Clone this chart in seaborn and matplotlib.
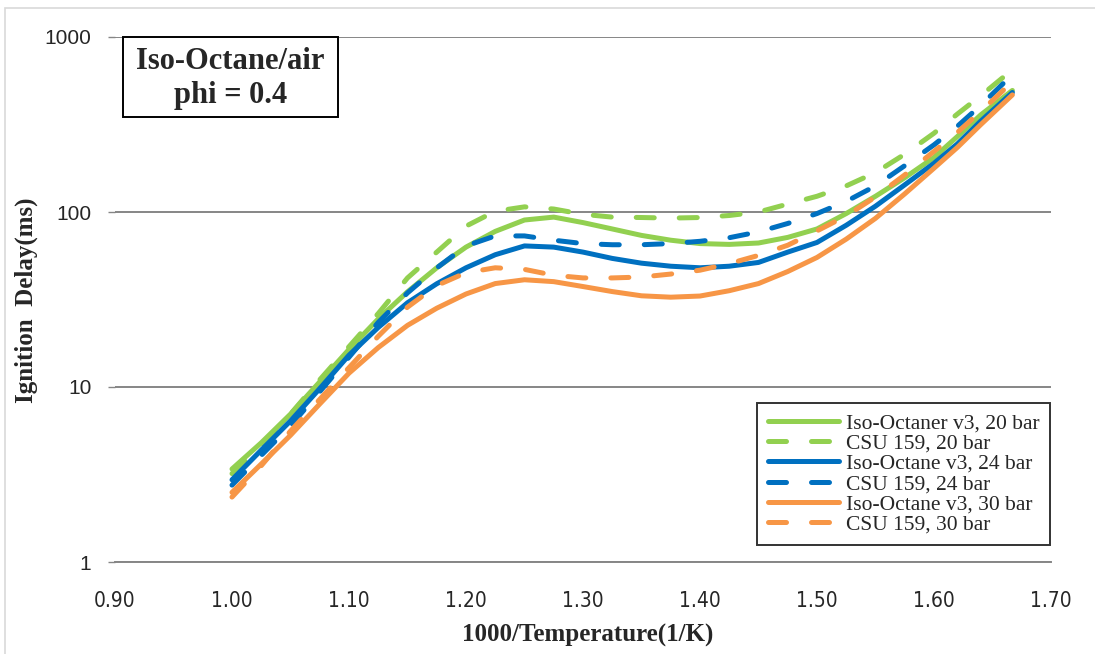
import matplotlib
matplotlib.use("Agg")
import matplotlib.pyplot as plt
import matplotlib.patches as mpatches
from matplotlib.ticker import FixedLocator, FixedFormatter, NullLocator
import seaborn as sns
import pandas as pd

# ---- data ----
inv_temp = [1.00, 1.025, 1.05, 1.075, 1.10, 1.125, 1.15, 1.175, 1.20, 1.225,
            1.25, 1.275, 1.30, 1.325, 1.35, 1.375, 1.40, 1.425, 1.45, 1.475,
            1.50, 1.525, 1.55, 1.575, 1.60, 1.62, 1.64, 1.667]

iso_v3_20 = [3.4, 4.8, 7.0, 10.7, 16.4, 24.5, 35, 48, 63, 77.5,
             90, 93.5, 87, 80, 73.5, 69, 66, 65.3, 66.5, 71.6,
             80, 98, 123, 157, 205, 270, 359, 495]
csu_20 = [3.2, 4.6, 7.0, 11, 17, 26.3, 42, 59, 83, 101,
          107, 104, 97, 93.5, 93, 92.3, 93, 95.5, 100, 111,
          123, 141, 168, 214, 282, 363, 462, 650]
iso_v3_24 = [2.95, 4.36, 6.4, 9.8, 15.2, 21.9, 30.3, 38.9, 48, 57,
             64, 63, 59, 54.3, 51, 49, 48, 49, 51.5, 59,
             67, 84, 108, 143, 190, 245, 331, 482]
csu_24 = [2.75, 4.07, 6.0, 9.4, 14.8, 23.4, 34.5, 47.9, 64, 73,
          73, 69, 66, 65, 65, 66, 68, 71.3, 77, 86,
          98, 115, 141, 184, 242, 309, 407, 610]
iso_v3_30 = [2.5, 3.63, 5.3, 8.0, 12, 16.8, 22.5, 28.2, 34, 39,
             41, 40, 37.5, 35.1, 33.2, 32.6, 33.1, 35.5, 39, 45.7,
             55, 70, 92, 127, 178, 234, 316, 467]
csu_30 = [2.35, 3.55, 5.6, 8.5, 12.9, 19.5, 28.6, 38, 45, 48,
          47, 43.5, 42, 42, 42.5, 44.2, 46.5, 50.7, 56.5, 64.6,
          78, 95, 122, 163, 222, 285, 376, 555]

series_labels = ["Iso-Octaner v3, 20 bar", "CSU 159, 20 bar",
                 "Iso-Octane v3, 24 bar", "CSU 159, 24 bar",
                 "Iso-Octane v3, 30 bar", "CSU 159, 30 bar"]
series_values = [iso_v3_20, csu_20, iso_v3_24, csu_24, iso_v3_30, csu_30]
series_colors = ["#92D050", "#92D050", "#0070C0", "#0070C0", "#F79646", "#F79646"]
series_dashed = [False, True, False, True, False, True]

x_ticks = [0.90, 1.00, 1.10, 1.20, 1.30, 1.40, 1.50, 1.60, 1.70]
y_ticks = [1, 10, 100, 1000]
y_tick_labels = ["1", "10", "100", "1000"]

# ---- figure ----
sns.set_style("white")
plt.rcParams["font.family"] = ["Liberation Serif", "DejaVu Serif"]

fig = plt.figure(figsize=(10.95, 6.54), dpi=100)
ax = fig.add_axes([115 / 1095, 1 - 562 / 654, (1051 - 115) / 1095, (562 - 37) / 654])

rows = []
for lab, vals in zip(series_labels, series_values):
    for xv, yv in zip(inv_temp, vals):
        rows.append({"x": xv, "delay": yv, "series": lab})
df = pd.DataFrame(rows)

for lab, col, dashed in zip(series_labels, series_colors, series_dashed):
    sub = df[df["series"] == lab]
    sns.lineplot(data=sub, x="x", y="delay", ax=ax, color=col,
                 linewidth=3.6, label=lab, sort=True)
    ln = ax.get_lines()[-1]
    ln.set_solid_capstyle("round")
    ln.set_solid_joinstyle("round")
    if dashed:
        ln.set_dashes((3.6, 5.0))
        ln.set_dash_capstyle("round")
        ln.set_dash_joinstyle("round")

ax.set_yscale("log")
ax.set_ylim(1, 1000)
ax.set_xlim(0.90, 1.70)
ax.yaxis.set_major_locator(FixedLocator(y_ticks))
ax.yaxis.set_major_formatter(FixedFormatter(y_tick_labels))
ax.yaxis.set_minor_locator(NullLocator())
ax.xaxis.set_major_locator(FixedLocator(x_ticks))
ax.set_xticklabels([f"{t:.2f}" for t in x_ticks])

for lbl in ax.get_yticklabels():
    lbl.set_fontfamily("Liberation Sans")
    lbl.set_fontsize(15)
for lbl in ax.get_xticklabels():
    lbl.set_fontfamily("DejaVu Sans")
    lbl.set_fontstretch("condensed")
    lbl.set_fontsize(15)

ax.grid(axis="y", color="#868686", linewidth=1.4)
ax.grid(axis="x", visible=False)
ax.set_axisbelow(True)
for s in ["top", "right", "left"]:
    ax.spines[s].set_visible(False)
ax.spines["bottom"].set_color("#868686")
ax.spines["bottom"].set_linewidth(1.4)
ax.tick_params(axis="x", direction="out", length=5, width=1, color="#868686", pad=16)
ax.tick_params(axis="y", direction="out", length=5, width=1, color="#868686", pad=12, left=True)

ax.set_xlabel("1000/Temperature(1/K)", fontsize=18, fontweight="bold")
ax.xaxis.set_label_coords(0.505, -0.118)
ax.set_ylabel("Ignition  Delay(ms)", fontsize=18, fontweight="bold")
ax.yaxis.set_label_coords(-0.082, 0.499)

# title box
ax.add_patch(mpatches.Rectangle((0.0085, 0.848), 0.2297, 0.152, transform=ax.transAxes,
                                facecolor="white", edgecolor="black", linewidth=1.4,
                                zorder=5, clip_on=False))
ax.text(0.123, 0.921, "Iso-Octane/air\nphi = 0.4", transform=ax.transAxes,
        ha="center", va="center", fontsize=22, fontweight="bold", linespacing=1.25,
        zorder=6)

leg = ax.legend(loc="lower right", bbox_to_anchor=(0.9989, 0.0324), frameon=True,
                fancybox=False, edgecolor="black", fontsize=15.5, handlelength=3.3,
                handletextpad=0.3, labelspacing=0.0, borderpad=0.5, borderaxespad=0.0)
leg.get_frame().set_linewidth(1.4)

# outer chart-area border
fig.patches.append(mpatches.Rectangle((5 / 1095, -0.1), 1.2, 1 - 8 / 654 + 0.1,
                                      transform=fig.transFigure, fill=False,
                                      edgecolor="#D9D9D9", linewidth=1.2))

fig.savefig("out.png", dpi=100)
